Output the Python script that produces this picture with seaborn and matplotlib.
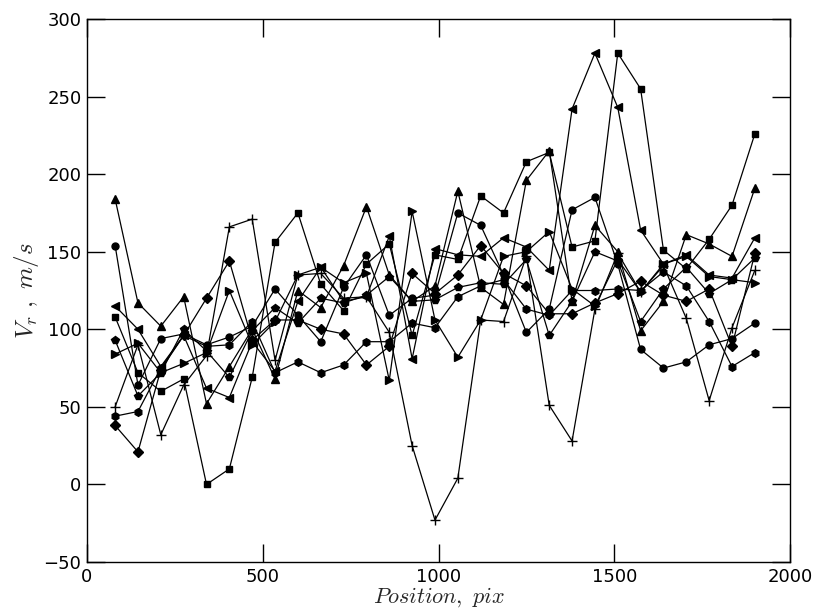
import matplotlib
matplotlib.use("Agg")
import matplotlib.pyplot as plt
import seaborn as sns
import pandas as pd

positions = [80, 145, 210, 275, 340, 405, 470, 535, 600, 665, 730, 795, 860, 925, 990,
             1055, 1120, 1185, 1250, 1315, 1380, 1445, 1510, 1575, 1640, 1705, 1770, 1835, 1900]

s_square = [108, 72, 60, 68, 0, 10, 69, 156, 175, 129, 112, 142, 155, 96, 148, 145, 186, 175, 208, 214, 153, 157, 278, 255, 151, 139, 158, 180, 226]
s_triup = [184, 117, 102, 121, 52, 76, 100, 68, 125, 114, 141, 179, 135, 118, 128, 189, 127, 116, 196, 215, 118, 167, 150, 99, 118, 161, 155, 147, 191]
s_trileft = [115, 100, 76, 96, 62, 56, 92, 73, 118, 140, 118, 121, 160, 81, 152, 148, 147, 159, 153, 138, 242, 278, 243, 164, 142, 148, 135, 133, 159]
s_triright = [84, 91, 72, 78, 85, 125, 90, 105, 135, 140, 130, 136, 67, 176, 106, 82, 106, 147, 150, 163, 126, 115, 145, 124, 142, 147, 134, 132, 130]
s_circ1 = [154, 64, 94, 97, 90, 95, 102, 126, 109, 92, 127, 148, 109, 120, 122, 175, 167, 135, 98, 113, 177, 185, 142, 87, 75, 79, 90, 94, 104]
s_circ2 = [93, 57, 72, 100, 86, 69, 99, 114, 104, 120, 117, 122, 134, 118, 119, 127, 130, 129, 145, 96, 118, 150, 144, 105, 126, 140, 123, 132, 146]
s_circ3 = [44, 47, 75, 96, 89, 90, 105, 72, 79, 72, 77, 92, 92, 104, 101, 121, 128, 132, 113, 109, 125, 125, 126, 125, 137, 128, 105, 76, 85]
s_diamond = [38, 21, 74, 96, 120, 144, 93, 106, 106, 100, 97, 77, 89, 136, 123, 135, 154, 136, 128, 110, 110, 117, 123, 131, 122, 118, 126, 89, 149]
s_plus = [50, 90, 32, 64, 83, 166, 171, 80, 135, 136, 120, 121, 98, 25, -23, 4, 106, 105, 147, 51, 28, 113, 149, 124, 141, 107, 54, 101, 138]

series = [
    (s_square, "s", 5), (s_triup, "^", 6), (s_trileft, "<", 6), (s_triright, ">", 6),
    (s_circ1, "o", 5), (s_circ2, "p", 6), (s_circ3, "h", 5.5), (s_diamond, "D", 5), (s_plus, "+", 7),
]

sns.set_style("ticks")
plt.rcParams["mathtext.fontset"] = "cm"
plt.rcParams["font.family"] = ["DejaVu Sans"]

fig = plt.figure(figsize=(8.16, 6.14), dpi=100)
ax = fig.add_axes([87 / 816, 1 - 562 / 614, 703 / 816, 543 / 614])

for vals, mk, ms in series:
    df = pd.DataFrame({"x": positions, "y": vals})
    sns.lineplot(data=df, x="x", y="y", ax=ax, color="black", linewidth=0.9,
                 marker=mk, markersize=ms, markeredgecolor="black",
                 markerfacecolor="black", markeredgewidth=1.0, sort=False)

ax.set_xlim(0, 2000)
ax.set_ylim(-50, 300)
ax.set_xticks([0, 500, 1000, 1500, 2000])
ax.set_yticks([-50, 0, 50, 100, 150, 200, 250, 300])
ax.tick_params(direction="in", length=13, width=1, top=True, right=True,
               labelsize=13, pad=4, colors="black")
for sp in ax.spines.values():
    sp.set_linewidth(1.0)
    sp.set_color("black")
ax.set_xlabel(r"$Position,\ pix$", fontsize=16, labelpad=0)
ax.set_ylabel(r"$V_r\ ,\ m/s$", fontsize=18, labelpad=2)

fig.savefig("out.png", dpi=100)
